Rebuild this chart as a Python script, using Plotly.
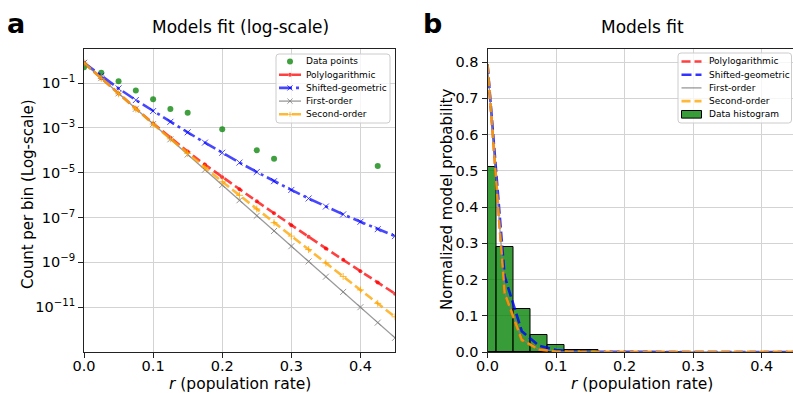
import plotly.graph_objects as go

W, H = 793, 393

# ---------------- data ----------------
r_points = [0.0, 0.025, 0.05, 0.075, 0.1, 0.125, 0.15, 0.2, 0.25, 0.275, 0.425]
p_points = [0.51, 0.29, 0.12, 0.047, 0.019, 0.0069, 0.0047, 0.00086, 0.0001, 0.000042, 0.00002]

r_model = [0.0, 0.025, 0.05, 0.075, 0.1, 0.125, 0.15, 0.175, 0.2, 0.225,
           0.25, 0.275, 0.3, 0.325, 0.35, 0.375, 0.4, 0.425, 0.45]
polylog = [0.794, 0.162, 0.0339, 0.00724, 0.00158, 3.63e-4, 8.71e-5, 2.29e-5, 6.31e-6, 1.82e-6,
           5.25e-7, 1.55e-7, 4.57e-8, 1.38e-8, 4.17e-9, 1.29e-9, 3.98e-10, 1.26e-10, 3.98e-11]
shifted_geom = [0.794, 0.209, 0.0575, 0.0174, 0.00562, 0.00186, 6.31e-4, 2.19e-4, 7.76e-5, 2.82e-5,
                1.07e-5, 4.17e-6, 1.70e-6, 7.08e-7, 3.09e-7, 1.38e-7, 6.46e-8, 3.02e-8, 1.48e-8]
first_order = [0.794, 0.166, 0.0347, 0.00708, 0.00148, 3.09e-4, 6.46e-5, 1.35e-5, 2.82e-6, 5.89e-7,
               1.20e-7, 2.51e-8, 5.25e-9, 1.10e-9, 2.29e-10, 4.79e-11, 1.00e-11, 2.04e-12, 4.27e-13]
second_order = [0.794, 0.162, 0.0331, 0.00692, 0.00148, 3.24e-4, 7.24e-5, 1.70e-5, 3.98e-6, 9.77e-7,
                2.40e-7, 5.89e-8, 1.48e-8, 3.72e-9, 9.33e-10, 2.34e-10, 5.89e-11, 1.48e-11, 3.72e-12]

hist_centers = r_points
hist_heights = p_points
bin_width = 0.025

x_ticks = [0.0, 0.1, 0.2, 0.3, 0.4]
x_ticklabels = ["0.0", "0.1", "0.2", "0.3", "0.4"]
log_ticks = [1e-1, 1e-3, 1e-5, 1e-7, 1e-9, 1e-11]
log_ticklabels = ["10<sup>\u22121</sup>", "10<sup>\u22123</sup>", "10<sup>\u22125</sup>",
                  "10<sup>\u22127</sup>", "10<sup>\u22129</sup>", "10<sup>\u221211</sup>"]
lin_ticks = [0.0, 0.1, 0.2, 0.3, 0.4, 0.5, 0.6, 0.7, 0.8]
lin_ticklabels = ["0.0", "0.1", "0.2", "0.3", "0.4", "0.5", "0.6", "0.7", "0.8"]

# ---------------- styles ----------------
FONT = "DejaVu Sans"
GREEN = "rgba(0,128,0,0.75)"
RED = "rgba(255,0,0,0.75)"
BLUE = "rgba(0,0,255,0.72)"
GREY = "rgba(128,128,128,0.8)"
ORANGE = "rgba(255,165,0,0.78)"
DASH = "9px,4px"
DASHDOT = "13px,4px,3px,4px"


def px(x):
    return x / W


def py(y):
    return 1 - y / H


fig = go.Figure()

# ---- left panel (log scale) ----
fig.add_trace(go.Scatter(x=r_points, y=p_points, mode="markers", xaxis="x", yaxis="y",
                         marker=dict(color=GREEN, size=6), showlegend=False))
fig.add_trace(go.Scatter(x=r_model, y=polylog, mode="lines+markers", xaxis="x", yaxis="y",
                         line=dict(color=RED, width=2.6, dash=DASH),
                         marker=dict(color=RED, size=4), showlegend=False))
fig.add_trace(go.Scatter(x=r_model, y=shifted_geom, mode="lines+markers", xaxis="x", yaxis="y",
                         line=dict(color=BLUE, width=2.6, dash=DASHDOT),
                         marker=dict(symbol="x-thin", size=6, line=dict(color=BLUE, width=1)),
                         showlegend=False))
fig.add_trace(go.Scatter(x=r_model, y=first_order, mode="lines+markers", xaxis="x", yaxis="y",
                         line=dict(color=GREY, width=1.3),
                         marker=dict(symbol="x-thin", size=6, line=dict(color=GREY, width=1)),
                         showlegend=False))
fig.add_trace(go.Scatter(x=r_model, y=second_order, mode="lines+markers", xaxis="x", yaxis="y",
                         line=dict(color=ORANGE, width=2.6, dash=DASH),
                         marker=dict(symbol="cross-thin", size=5, line=dict(color=ORANGE, width=1)),
                         showlegend=False))

# ---- right panel (linear) ----
fig.add_trace(go.Bar(x=hist_centers, y=hist_heights, width=bin_width, xaxis="x2", yaxis="y2",
                     marker=dict(color="rgba(0,128,0,0.78)", line=dict(color="black", width=1)),
                     showlegend=False))
fig.add_trace(go.Scatter(x=r_model, y=polylog, mode="lines", xaxis="x2", yaxis="y2",
                         line=dict(color=RED, width=2.6, dash=DASH), showlegend=False))
fig.add_trace(go.Scatter(x=r_model, y=shifted_geom, mode="lines", xaxis="x2", yaxis="y2",
                         line=dict(color="rgba(0,0,255,0.8)", width=2.6, dash="10px,4px"), showlegend=False))
fig.add_trace(go.Scatter(x=r_model, y=first_order, mode="lines", xaxis="x2", yaxis="y2",
                         line=dict(color=GREY, width=1.3), showlegend=False))
fig.add_trace(go.Scatter(x=r_model, y=second_order, mode="lines", xaxis="x2", yaxis="y2",
                         line=dict(color=ORANGE, width=2.6, dash=DASH), showlegend=False))

axis_common = dict(showgrid=True, gridcolor="#d3d3d3", gridwidth=1, zeroline=False,
                   showline=True, linecolor="#222222", linewidth=1,
                   ticks="outside", ticklen=5, tickwidth=1, tickcolor="#222222",
                   tickfont=dict(family=FONT, size=14.5, color="black"), automargin=False)

ydom = [py(352), py(49)]

fig.update_layout(
    width=W, height=H, margin=dict(l=0, r=0, t=0, b=0),
    paper_bgcolor="white", plot_bgcolor="white", bargap=0,
    font=dict(family=FONT, color="black"),
    xaxis=dict(domain=[px(84), px(395)], range=[0, 0.45], tickvals=x_ticks, ticktext=x_ticklabels,
               anchor="y", mirror=True, ticklabelstandoff=-4, **axis_common),
    yaxis=dict(domain=ydom, type="log", range=[-13, 0.518], tickvals=log_ticks, ticktext=log_ticklabels,
               anchor="x", mirror=True, **axis_common),
    xaxis2=dict(domain=[px(487.5), 1.0], range=[0, 0.4457], tickvals=x_ticks, ticktext=x_ticklabels,
                anchor="y2", mirror=True, ticklabelstandoff=-4, **axis_common),
    yaxis2=dict(domain=ydom, range=[0, 0.836], tickvals=lin_ticks, ticktext=lin_ticklabels,
                anchor="x2", mirror=False, **axis_common),
)

# ---------------- text annotations ----------------
ann = []


def text(x, y, s, size, xanchor="center", yanchor="middle", angle=0, bold=False):
    ann.append(dict(x=px(x), y=py(y), xref="paper", yref="paper", text=s, showarrow=False,
                    xanchor=xanchor, yanchor=yanchor, textangle=angle, borderpad=0,
                    font=dict(family=FONT, size=size, color="black",
                              weight="bold" if bold else "normal")))


text(16, 24, "a", 27, bold=True)
text(432, 24, "b", 27, bold=True)
text(240, 38, "Models fit (log-scale)", 17, yanchor="bottom")
text(642, 38, "Models fit", 17, yanchor="bottom")
text(240, 384, "<i>r</i> (population rate)", 15.5)
text(642, 384, "<i>r</i> (population rate)", 15.5)
text(28, 194, "Count per bin (Log-scale)", 15, angle=-90)
text(447, 200, "Normalized model probability", 15, angle=-90)

# ---------------- legends (drawn as shapes + text) ----------------
shapes = []


def rounded_box(x0, y0, x1, y1, rad=3):
    X0, X1 = px(x0), px(x1)
    Y0, Y1 = py(y0), py(y1)
    rx, ry = rad / W, rad / H
    path = (f"M {X0+rx},{Y0} L {X1-rx},{Y0} Q {X1},{Y0} {X1},{Y0-ry} "
            f"L {X1},{Y1+ry} Q {X1},{Y1} {X1-rx},{Y1} L {X0+rx},{Y1} "
            f"Q {X0},{Y1} {X0},{Y1+ry} L {X0},{Y0-ry} Q {X0},{Y0} {X0+rx},{Y0} Z")
    shapes.append(dict(type="path", path=path, xref="paper", yref="paper",
                       fillcolor="rgba(255,255,255,0.8)", line=dict(color="#cccccc", width=1)))


def seg(x0, x1, y, color, width, dash="solid"):
    shapes.append(dict(type="line", xref="paper", yref="paper", x0=px(x0), x1=px(x1),
                       y0=py(y), y1=py(y), line=dict(color=color, width=width, dash=dash)))


def xmark(cx, cy, color, s=2.6):
    for d in (1, -1):
        shapes.append(dict(type="line", xref="paper", yref="paper",
                           x0=px(cx - s), x1=px(cx + s), y0=py(cy - d * s), y1=py(cy + d * s),
                           line=dict(color=color, width=1)))


def plusmark(cx, cy, color, s=2.5):
    seg(cx - s, cx + s, cy, color, 1)
    shapes.append(dict(type="line", xref="paper", yref="paper", x0=px(cx), x1=px(cx),
                       y0=py(cy - s), y1=py(cy + s), line=dict(color=color, width=1)))


def dot(cx, cy, color, rad):
    shapes.append(dict(type="circle", xref="paper", yref="paper",
                       x0=px(cx - rad), x1=px(cx + rad), y0=py(cy - rad), y1=py(cy + rad),
                       fillcolor=color, line=dict(width=0)))


rows = [61.5 + 13.2 * i for i in range(5)]

# left legend
rounded_box(276, 54, 390, 123)
left_labels = ["Data points", "Polylogarithmic", "Shifted-geometric", "First-order", "Second-order"]
dot(290, rows[0], GREEN, 3)
seg(279, 301, rows[1], RED, 2.6, DASH)
dot(290, rows[1], RED, 2)
seg(279, 301, rows[2], BLUE, 2.6, DASHDOT)
xmark(290, rows[2], BLUE)
seg(279, 301, rows[3], GREY, 1.3)
xmark(290, rows[3], GREY)
seg(279, 301, rows[4], ORANGE, 2.6, DASH)
plusmark(290, rows[4], ORANGE)
for yy, lab in zip(rows, left_labels):
    text(305, yy, lab, 9, xanchor="left")

# right legend
rounded_box(678, 53, 791.5, 123)
right_labels = ["Polylogarithmic", "Shifted-geometric", "First-order", "Second-order", "Data histogram"]
seg(681.5, 701.5, rows[0], RED, 2.6, DASH)
seg(681.5, 701.5, rows[1], "rgba(0,0,255,0.8)", 2.6, "10px,4px")
seg(681.5, 701.5, rows[2], GREY, 1.3)
seg(681.5, 701.5, rows[3], ORANGE, 2.6, DASH)
shapes.append(dict(type="rect", xref="paper", yref="paper", x0=px(681.5), x1=px(701.5),
                   y0=py(rows[4] + 3.8), y1=py(rows[4] - 3.8),
                   fillcolor="rgba(0,128,0,0.78)", line=dict(color="black", width=1)))
for yy, lab in zip(rows, right_labels):
    text(707.5, yy, lab, 9, xanchor="left")

fig.update_layout(annotations=ann, shapes=shapes)

fig.write_html("out.html", config={"displayModeBar": False},
               post_script="document.body.style.margin='0px';")
